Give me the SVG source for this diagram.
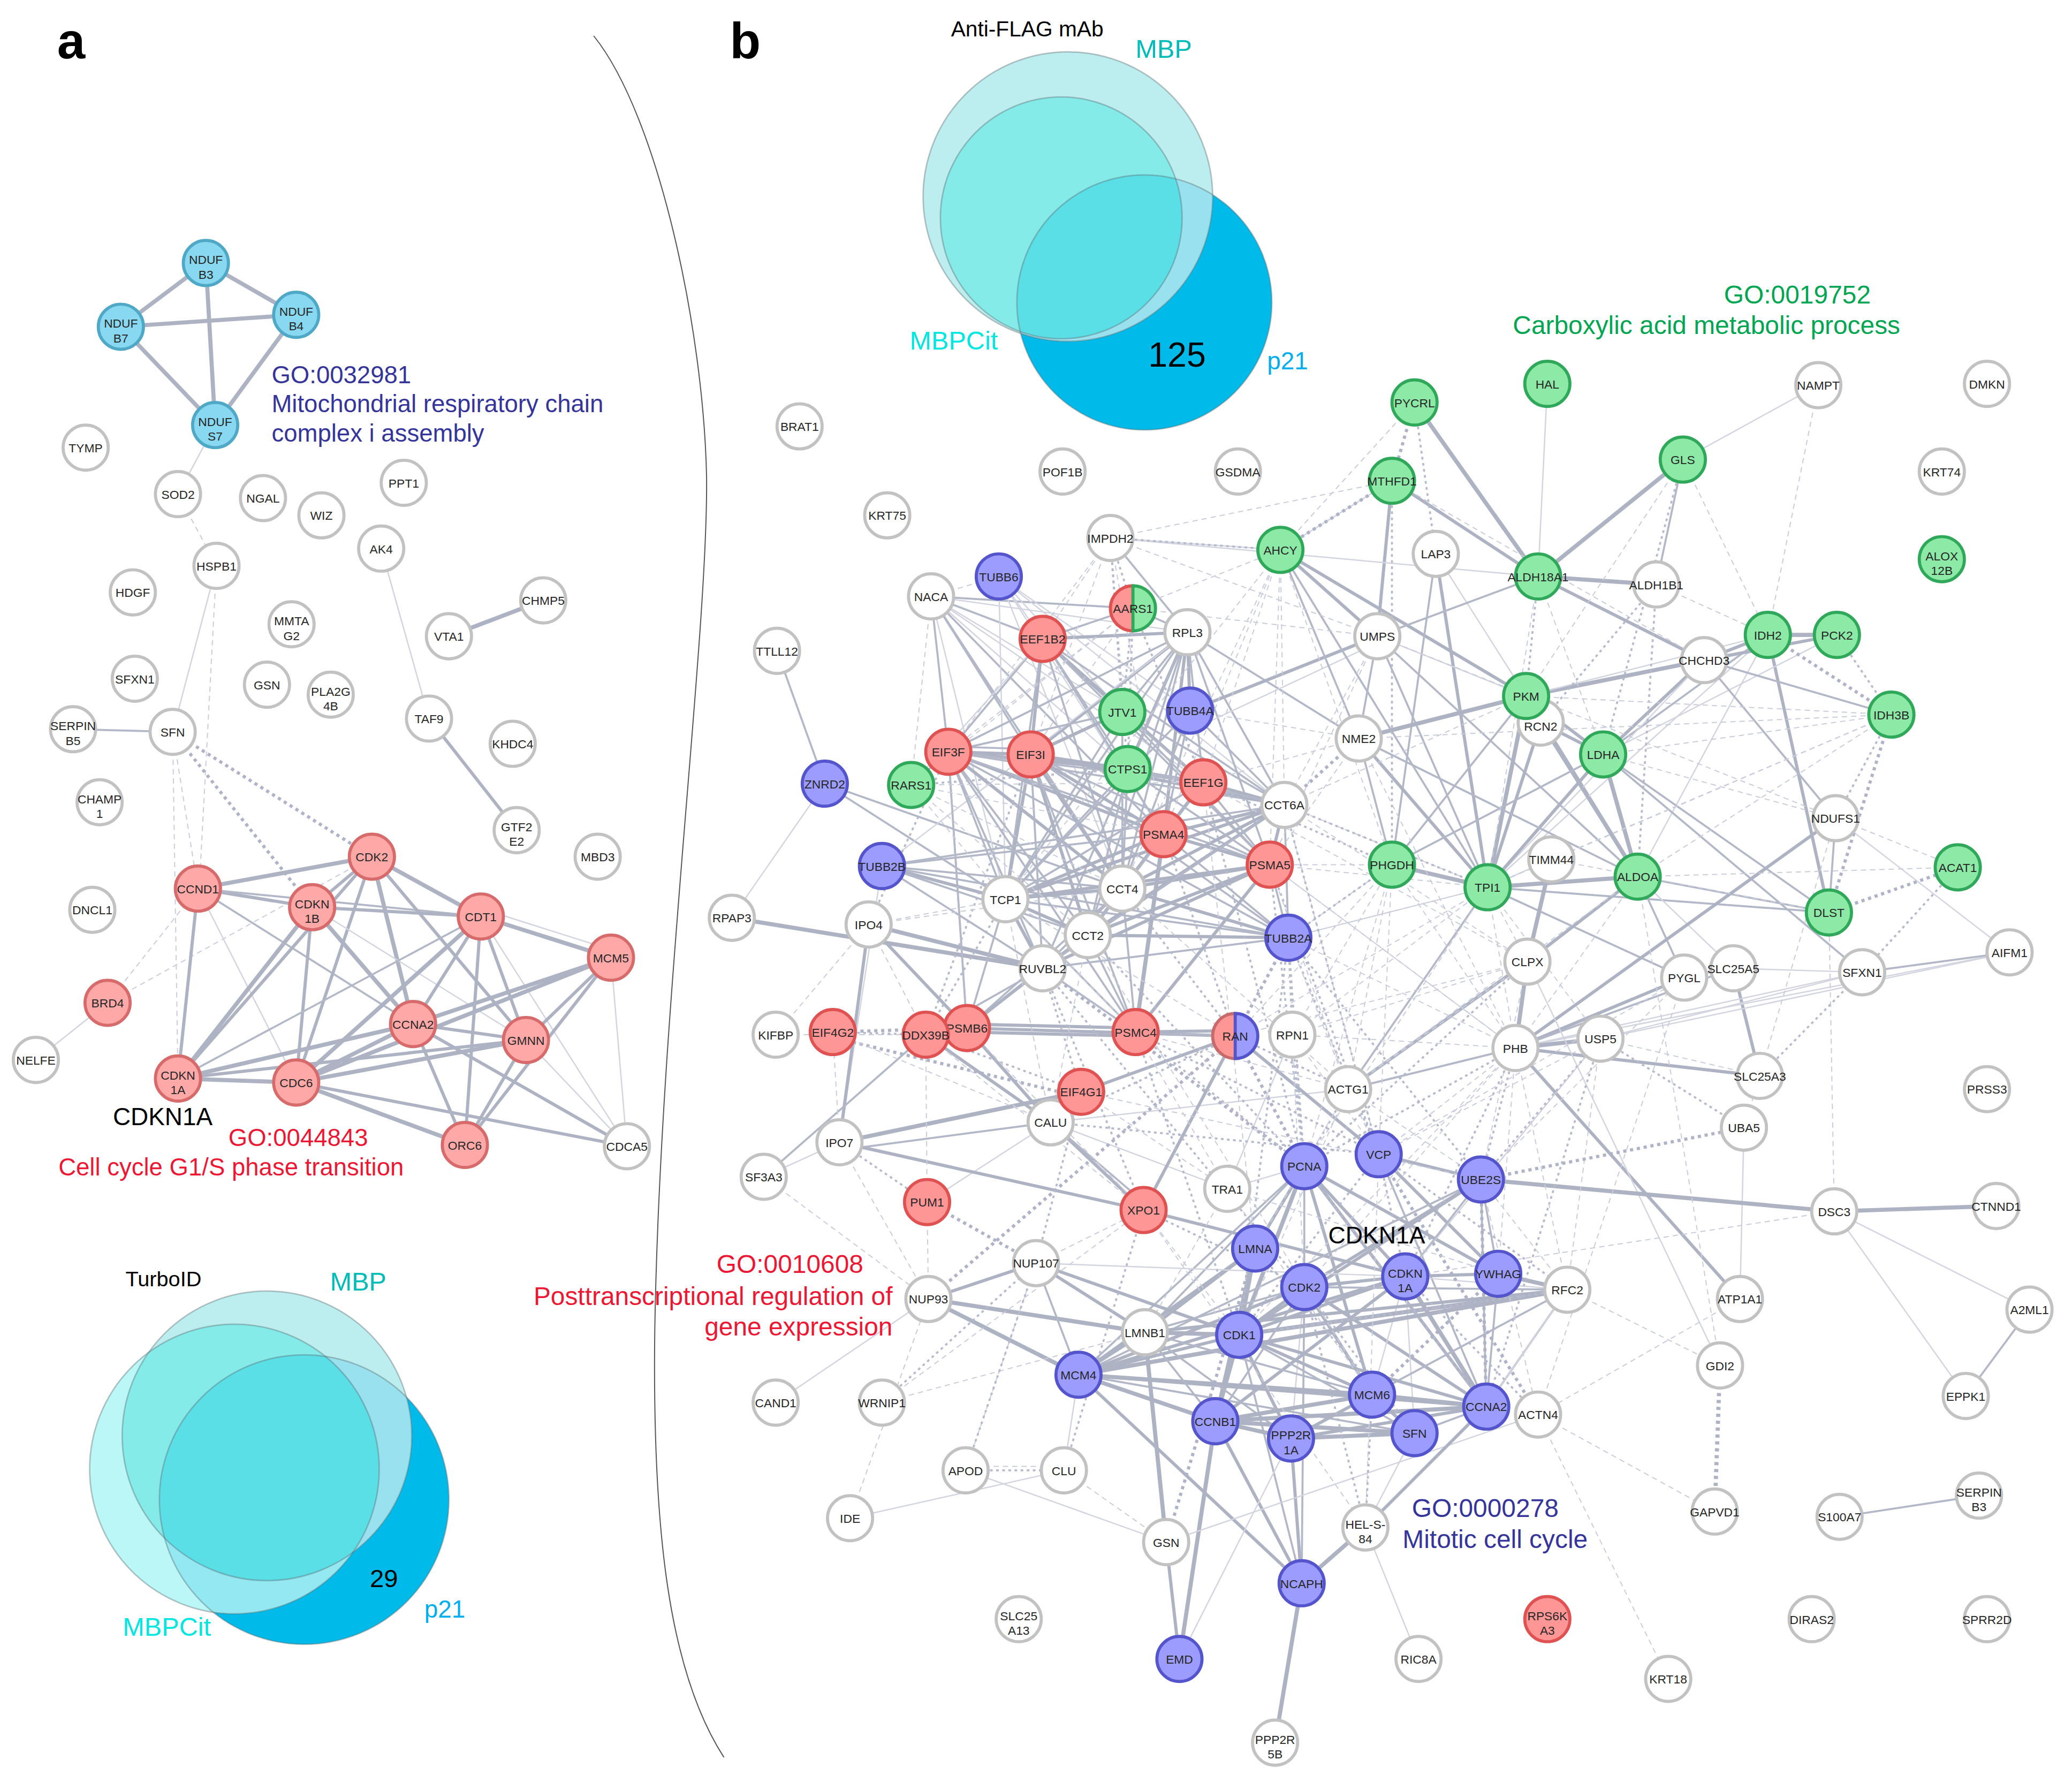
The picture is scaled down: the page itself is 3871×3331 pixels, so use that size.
<svg xmlns="http://www.w3.org/2000/svg" width="3871" height="3331" viewBox="0 0 3871 3331">
<style>
text{font-family:"Liberation Sans",Arial,sans-serif}
#connectors path{fill:none}
.x{stroke:#aeb3c4;stroke-width:3.100}
.t{stroke:#aeb3c4;stroke-width:2.400}
.m{stroke:#b3b8c8;stroke-width:1.500}
.l{stroke:#d2d5e0;stroke-width:1}
.d{stroke:#c9cddb;stroke-width:.8;stroke-dasharray:4 3}
.s{stroke:#aeb3c8;stroke-width:2.400;stroke-dasharray:2.400 2.800}
.q{stroke:#b5bacc;stroke-width:1.500;stroke-dasharray:2 2.600}
.nd circle,.nd path{stroke-width:2.300}
.nd text{font-size:9.200px;text-anchor:middle;fill:#262626}
.w circle{fill:#fff;stroke:#c2c2c2}
.r circle{fill:#ff9696;stroke:#e05252}
.ra circle{fill:#ffa8a8;stroke:#d76a6a}
.g circle{fill:#8ceaa6;stroke:#2fa85a}
.p circle{fill:#9c9cff;stroke:#5454cc}
.c circle{fill:#87d8f0;stroke:#4fa9c6}
.go{font-size:18.350px}
.gb{font-size:19.300px}
.blue{fill:#35349a}.red{fill:#ee1733}.green{fill:#00a651}
.vt{font-size:19.600px}
.ring{fill:none;stroke:#5c6b70;stroke-opacity:.4;stroke-width:1.100}
</style>
<defs>
<clipPath id="ca-m"><circle cx="201" cy="1081" r="109"/></clipPath>
<clipPath id="ca-c"><circle cx="176.500" cy="1106" r="109"/></clipPath>
<clipPath id="ca-p"><circle cx="229" cy="1129" r="109"/></clipPath>
<clipPath id="cb-m"><circle cx="804" cy="148" r="109"/></clipPath>
<clipPath id="cb-c"><circle cx="799" cy="164" r="91"/></clipPath>
<clipPath id="cb-p"><circle cx="861.600" cy="227.700" r="96"/></clipPath>
</defs>
<g transform="scale(2.4814)">
<rect x="0" y="0" width="1560" height="1343" fill="#fff"/>
<path id="divider" d="M447 27C496 88 530 250 532 360C533 480 497 760 493 1000C491 1150 503 1258 545 1323" fill="none" stroke="#555" stroke-width=".8"/>
<g id="venn-a">
<circle cx="229" cy="1129" r="109" fill="#00bbea"/>
<circle cx="176.500" cy="1106" r="109" fill="#baf7f6"/>
<circle cx="201" cy="1081" r="109" fill="#bdeeef"/>
<circle cx="201" cy="1081" r="109" fill="#84ebe9" clip-path="url(#ca-c)"/>
<circle cx="229" cy="1129" r="109" fill="#94e8f2" clip-path="url(#ca-c)"/>
<circle cx="229" cy="1129" r="109" fill="#99e1ef" clip-path="url(#ca-m)"/>
<g clip-path="url(#ca-c)"><circle cx="229" cy="1129" r="109" fill="#5bdfe7" clip-path="url(#ca-m)"/></g>
<circle class="ring" cx="201" cy="1081" r="109"/><circle class="ring" cx="176.500" cy="1106" r="109"/><circle class="ring" cx="229" cy="1129" r="109" stroke-opacity=".7"/>
<text x="94.500" y="968.500" font-size="16">TurboID</text>
<text class="vt" x="248.500" y="971.500" fill="#00bcb8">MBP</text>
<text class="vt" x="92.500" y="1231.500" fill="#00e6e0">MBPCit</text>
<text x="278.500" y="1195" font-size="19" fill="#000">29</text>
<text x="319.500" y="1218" font-size="18.500" fill="#00aeef">p21</text>
</g>
<g id="venn-b">
<circle cx="861.600" cy="227.700" r="96" fill="#00bbea"/>
<circle cx="804" cy="148" r="109" fill="#bdeeef"/>
<circle cx="861.600" cy="227.700" r="96" fill="#99e1ef" clip-path="url(#cb-m)"/>
<circle cx="799" cy="164" r="91" fill="#84ebe9"/>
<circle cx="861.600" cy="227.700" r="96" fill="#5bdfe7" clip-path="url(#cb-c)"/>
<circle class="ring" cx="804" cy="148" r="109"/><circle class="ring" cx="799" cy="164" r="91"/><circle class="ring" cx="861.600" cy="227.700" r="96" stroke-opacity=".7"/>
<text x="716" y="27.500" font-size="16.400">Anti-FLAG mAb</text>
<text class="vt" x="855" y="43.500" fill="#00bcb8">MBP</text>
<text class="vt" x="685" y="263" fill="#00e6e0">MBPCit</text>
<text x="864.500" y="276" font-size="26" fill="#000">125</text>
<text x="954" y="278" font-size="18.500" fill="#00aeef">p21</text>
</g>
<g id="connectors">
<path class="x" d="M155 198L91 246"/><path class="x" d="M155 198L223 237"/><path class="x" d="M91 246L223 237"/><path class="x" d="M155 198L162 320"/><path class="x" d="M91 246L162 320"/><path class="x" d="M223 237L162 320"/>
<path class="l" d="M162 320L134 372"/><path class="d" d="M134 372L163 426"/><path class="l" d="M163 426L130 551"/><path class="d" d="M163 426L150 669"/><path class="l" d="M287 413L323 541"/><path class="x" d="M338 479L409 452"/><path class="m" d="M55 549L130 551"/><path class="s" d="M130 551L280 645"/><path class="s" d="M130 551L235 683"/><path class="d" d="M130 551L149 669"/><path class="d" d="M130 551L134 812"/><path class="d" d="M81 755L149 669"/><path class="d" d="M81 755L280 645"/><path class="l" d="M81 755L27 798"/><path class="t" d="M323 541L389 625"/>
<path class="x" d="M149 669L280 645"/><path class="t" d="M149 669L235 683"/><path class="m" d="M149 669L362 690"/><path class="t" d="M149 669L134 812"/><path class="l" d="M149 669L223 815"/><path class="m" d="M149 669L311 771"/><path class="t" d="M280 645L235 683"/><path class="x" d="M280 645L362 690"/><path class="t" d="M280 645L134 812"/><path class="x" d="M280 645L311 771"/><path class="t" d="M280 645L223 815"/><path class="t" d="M280 645L396 783"/><path class="t" d="M235 683L362 690"/><path class="x" d="M235 683L134 812"/><path class="t" d="M235 683L223 815"/><path class="x" d="M235 683L311 771"/><path class="l" d="M235 683L396 783"/><path class="x" d="M362 690L460 721"/><path class="l" d="M362 684L460 715"/><path class="m" d="M362 690L134 812"/><path class="x" d="M362 690L223 815"/><path class="t" d="M362 690L311 771"/><path class="t" d="M362 690L396 783"/><path class="t" d="M362 690L350 862"/><path class="l" d="M362 690L472 863"/><path class="x" d="M460 721L311 771"/><path class="x" d="M460 721L223 815"/><path class="t" d="M460 721L396 783"/><path class="t" d="M460 721L350 862"/><path class="l" d="M460 721L472 863"/><path class="t" d="M311 771L396 783"/><path class="x" d="M311 771L134 812"/><path class="x" d="M311 771L223 815"/><path class="t" d="M311 771L350 862"/><path class="t" d="M311 771L472 863"/><path class="t" d="M396 783L134 812"/><path class="x" d="M396 783L223 815"/><path class="t" d="M396 783L350 862"/><path class="l" d="M396 783L472 863"/><path class="x" d="M134 812L223 815"/><path class="x" d="M223 815L350 862"/><path class="t" d="M223 815L472 863"/>

<path class="m" d="M585 490L621 590"/><path class="l" d="M621 590L551 691"/><path class="m" d="M621 590L757 677"/><path class="m" d="M621 590L845 669"/><path class="l" d="M664 652L632 860"/><path class="x" d="M551 691L785 729"/><path class="x" d="M654 696L785 729"/><path class="t" d="M654 696L728 774"/><path class="t" d="M654 696L632 860"/><path class="m" d="M575 886L697 779"/><path class="l" d="M575 886L632 860"/>
<path class="m" d="M701 449L785 481"/><path class="m" d="M701 449L853 458"/><path class="l" d="M701 449L894 476"/><path class="m" d="M701 449L714 566"/><path class="m" d="M701 449L776 568"/><path class="l" d="M701 449L845 536"/><path class="m" d="M701 449L845 669"/><path class="l" d="M701 449L757 677"/><path class="l" d="M701 449L906 589"/><path class="m" d="M701 449L876 628"/><path class="l" d="M701 449L849 579"/>
<path class="l" d="M752 434L785 481"/><path class="l" d="M752 434L757 677"/><path class="l" d="M752 434L845 669"/><path class="l" d="M752 434L845 536"/><path class="l" d="M752 434L896 535"/><path class="l" d="M752 434L967 606"/><path class="l" d="M752 434L876 628"/>
<path class="t" d="M785 481L894 476"/><path class="t" d="M785 481L845 536"/><path class="t" d="M785 481L776 568"/><path class="m" d="M785 481L714 566"/><path class="m" d="M785 481L849 579"/><path class="t" d="M785 481L906 589"/><path class="m" d="M785 481L876 628"/><path class="m" d="M785 481L845 669"/><path class="m" d="M785 481L757 677"/><path class="l" d="M785 481L686 591"/><path class="m" d="M785 481L853 458"/><path class="m" d="M785 481L967 606"/><path class="m" d="M785 481L956 651"/>
<path class="m" d="M894 476L845 536"/><path class="t" d="M894 476L896 535"/><path class="m" d="M894 476L714 566"/><path class="t" d="M894 476L776 568"/><path class="t" d="M894 476L849 579"/><path class="m" d="M894 476L906 589"/><path class="t" d="M894 476L876 628"/><path class="m" d="M894 476L845 669"/><path class="m" d="M894 476L757 677"/><path class="m" d="M894 476L967 606"/><path class="m" d="M894 476L956 651"/><path class="m" d="M894 476L853 458"/><path class="l" d="M894 476L664 652"/><path class="m" d="M894 476L785 729"/><path class="m" d="M894 476L819 704"/><path class="m" d="M894 476L1023 556"/>
<path class="t" d="M845 536L776 568"/><path class="m" d="M845 536L714 566"/><path class="m" d="M845 536L906 589"/><path class="m" d="M845 536L956 651"/><path class="m" d="M845 536L967 606"/><path class="m" d="M845 536L757 677"/><path class="m" d="M845 536L845 669"/>
<path class="m" d="M896 535L757 677"/><path class="m" d="M896 535L845 669"/><path class="m" d="M896 535L967 606"/><path class="m" d="M896 535L876 628"/><path class="t" d="M896 535L1037 479"/><path class="l" d="M896 550L1037 484"/>
<path class="t" d="M714 566L776 568"/><path class="m" d="M714 562L776 564"/><path class="t" d="M714 566L849 579"/><path class="m" d="M714 566L906 589"/><path class="m" d="M714 566L686 591"/><path class="t" d="M714 566L876 628"/><path class="m" d="M714 566L757 677"/><path class="t" d="M714 566L845 669"/><path class="m" d="M714 566L967 606"/><path class="m" d="M714 566L956 651"/><path class="m" d="M714 566L819 704"/><path class="m" d="M714 566L785 729"/><path class="m" d="M714 566L855 777"/><path class="m" d="M714 566L970 706"/><path class="m" d="M714 566L728 774"/>
<path class="t" d="M776 568L849 579"/><path class="t" d="M776 568L906 589"/><path class="t" d="M776 568L876 628"/><path class="t" d="M776 568L757 677"/><path class="t" d="M776 568L845 669"/><path class="t" d="M776 568L967 606"/><path class="m" d="M776 568L956 651"/><path class="t" d="M776 568L819 704"/><path class="m" d="M776 568L785 729"/><path class="m" d="M776 568L855 777"/><path class="m" d="M776 568L970 706"/>
<path class="t" d="M664 652L757 677"/><path class="m" d="M664 652L845 669"/><path class="m" d="M664 652L876 628"/><path class="m" d="M664 652L819 704"/><path class="m" d="M664 652L785 729"/><path class="m" d="M664 652L967 606"/><path class="m" d="M664 652L970 706"/>
<path class="t" d="M757 677L845 669"/><path class="t" d="M757 677L819 704"/><path class="t" d="M757 677L785 729"/><path class="t" d="M757 677L967 606"/><path class="t" d="M757 677L956 651"/><path class="t" d="M757 677L876 628"/><path class="m" d="M757 677L970 706"/><path class="m" d="M757 677L906 589"/><path class="m" d="M757 677L849 579"/><path class="m" d="M757 677L855 777"/><path class="m" d="M757 677L728 774"/>
<path class="t" d="M845 669L819 704"/><path class="m" d="M845 669L785 729"/><path class="t" d="M845 669L967 606"/><path class="t" d="M845 669L876 628"/><path class="t" d="M845 669L956 651"/><path class="t" d="M845 669L906 589"/><path class="t" d="M845 669L970 706"/><path class="m" d="M845 669L849 579"/><path class="m" d="M845 669L728 774"/><path class="m" d="M845 669L855 777"/>
<path class="t" d="M819 704L967 606"/><path class="t" d="M819 704L956 651"/><path class="t" d="M819 704L785 729"/><path class="t" d="M819 704L970 706"/><path class="t" d="M819 704L876 628"/><path class="m" d="M819 704L906 589"/><path class="m" d="M819 704L849 579"/><path class="m" d="M819 704L855 777"/><path class="m" d="M819 704L728 774"/>
<path class="m" d="M785 729L967 606"/><path class="t" d="M785 729L956 651"/><path class="t" d="M785 729L728 774"/><path class="m" d="M785 729L697 779"/><path class="m" d="M785 729L855 777"/><path class="m" d="M785 729L970 706"/>
<path class="x" d="M876 628L855 777"/><path class="t" d="M876 628L956 651"/><path class="t" d="M876 628L967 606"/><path class="t" d="M876 628L906 589"/><path class="m" d="M876 628L970 706"/><path class="t" d="M956 651L855 777"/><path class="t" d="M956 651L967 606"/><path class="m" d="M956 651L970 706"/><path class="m" d="M906 589L956 651"/><path class="t" d="M906 589L967 606"/><path class="m" d="M849 579L967 606"/><path class="m" d="M849 579L906 589"/><path class="m" d="M849 579L956 651"/><path class="m" d="M967 606L970 706"/>
<path class="t" d="M728 771L855 774"/><path class="t" d="M728 777L855 780"/><path class="t" d="M728 774L930 780"/><path class="m" d="M855 777L930 780"/><path class="t" d="M855 777L930 776"/><path class="t" d="M728 774L791 845"/><path class="t" d="M697 779L791 845"/><path class="t" d="M814 822L930 780"/><path class="x" d="M632 860L814 822"/><path class="m" d="M632 866L791 845"/><path class="t" d="M791 845L861 911"/><path class="m" d="M791 845L861 905"/><path class="l" d="M791 845L924 895"/><path class="l" d="M791 845L698 905"/><path class="l" d="M791 845L1015 820"/><path class="t" d="M632 860L861 911"/><path class="t" d="M861 911L930 780"/><path class="t" d="M861 911L1058 961"/><path class="l" d="M924 895L982 878"/><path class="l" d="M924 895L973 779"/><path class="t" d="M930 780L1038 869"/>

<path class="x" d="M1065 303L1158 434"/><path class="l" d="M1165 289L1158 434"/><path class="x" d="M1267 346L1158 434"/><path class="l" d="M1267 346L1369 290"/><path class="m" d="M1267 346L1247 440"/><path class="t" d="M1048 362L1158 434"/><path class="t" d="M1048 362L1037 479"/><path class="l" d="M1048 362L964 414"/>
<path class="t" d="M964 414L1037 479"/><path class="t" d="M964 414L1149 524"/><path class="m" d="M964 414L1023 556"/><path class="m" d="M964 414L1120 668"/><path class="t" d="M1081 417L1120 668"/><path class="m" d="M1081 417L1048 651"/><path class="l" d="M1081 417L1149 524"/>
<path class="x" d="M1158 434L1247 440"/><path class="t" d="M1158 434L1283 497"/><path class="m" d="M1158 434L1037 479"/><path class="l" d="M1158 434L836 405"/><path class="m" d="M1037 479L1023 556"/><path class="l" d="M1037 479L1149 524"/><path class="m" d="M1037 479L1120 668"/><path class="m" d="M1037 479L1233 660"/>
<path class="x" d="M1149 524L1283 497"/><path class="x" d="M1149 524L1023 556"/><path class="x" d="M1149 524L1120 668"/><path class="t" d="M1149 524L1207 568"/><path class="x" d="M1149 524L1233 660"/><path class="m" d="M1149 524L1048 651"/><path class="l" d="M1149 524L1331 478"/>
<path class="x" d="M1331 478L1383 478"/><path class="t" d="M1331 478L1283 497"/><path class="t" d="M1331 478L1377 687"/><path class="l" d="M1331 478L1120 668"/><path class="l" d="M1331 478L1233 660"/><path class="m" d="M1331 478L1207 568"/><path class="t" d="M1383 478L1283 497"/><path class="l" d="M1383 478L1207 568"/><path class="t" d="M1283 497L1207 568"/><path class="m" d="M1283 497L1382 616"/><path class="l" d="M1283 497L1120 668"/><path class="m" d="M1283 497L1424 538"/>
<path class="t" d="M1207 568L1120 668"/><path class="x" d="M1207 568L1233 660"/><path class="m" d="M1207 568L1402 732"/><path class="m" d="M1207 568L1377 687"/><path class="l" d="M1207 568L1048 651"/><path class="t" d="M1160 544L1233 660"/><path class="t" d="M1160 544L1207 568"/><path class="t" d="M1160 544L1120 668"/>
<path class="m" d="M1023 556L1048 651"/><path class="t" d="M1023 556L1120 668"/><path class="m" d="M1023 556L1233 660"/><path class="x" d="M1048 651L1120 668"/><path class="m" d="M1048 651L1207 568"/><path class="x" d="M1120 668L1233 660"/><path class="m" d="M1120 668L1377 687"/><path class="m" d="M1120 668L1268 736"/><path class="l" d="M1120 668L1168 647"/><path class="m" d="M1233 660L1377 687"/><path class="t" d="M1233 660L1150 724"/><path class="m" d="M1233 660L1268 736"/><path class="l" d="M1233 660L1305 729"/><path class="x" d="M1168 647L1150 724"/><path class="m" d="M1377 687L1382 616"/><path class="l" d="M1382 616L1513 717"/><path class="t" d="M1382 616L1141 789"/><path class="l" d="M1268 736L1305 729"/><path class="t" d="M1268 736L1141 789"/><path class="l" d="M1305 729L1402 732"/><path class="t" d="M1305 729L1325 810"/><path class="m" d="M1305 729L1141 789"/><path class="m" d="M1402 732L1513 717"/><path class="l" d="M1402 732L1141 789"/><path class="l" d="M1402 732L1205 782"/><path class="l" d="M1513 717L1141 789"/><path class="l" d="M1513 717L1205 782"/>
<path class="x" d="M1141 789L1205 782"/><path class="t" d="M1141 789L1325 810"/><path class="t" d="M1141 789L1310 978"/><path class="m" d="M1141 789L1015 820"/><path class="x" d="M1141 789L1150 724"/><path class="l" d="M1150 724L1295 1028"/><path class="t" d="M1150 724L1015 820"/><path class="m" d="M1120 668L1015 820"/><path class="l" d="M1310 978L1313 849"/><path class="x" d="M1115 888L1381 912"/><path class="x" d="M1381 912L1503 908"/><path class="l" d="M1381 912L1528 986"/><path class="l" d="M1381 912L1480 1051"/><path class="m" d="M1528 986L1480 1051"/><path class="m" d="M1385 1142L1490 1126"/><path class="l" d="M1028 1150L1068 1249"/>

<path class="t" d="M982 878L945 940"/><path class="m" d="M982 878L982 969"/><path class="x" d="M982 878L933 1005"/><path class="m" d="M982 878L812 1035"/><path class="t" d="M982 878L1033 1050"/><path class="t" d="M982 878L1119 1059"/><path class="t" d="M982 878L1058 961"/><path class="t" d="M982 878L1128 959"/><path class="m" d="M982 878L862 1003"/>
<path class="t" d="M1038 869L1115 888"/><path class="t" d="M1038 869L1128 959"/><path class="m" d="M1038 869L1119 1059"/><path class="m" d="M1115 888L1058 961"/><path class="t" d="M1115 888L982 969"/><path class="m" d="M1115 888L1128 959"/><path class="m" d="M1115 888L1119 1059"/><path class="t" d="M1115 888L933 1005"/><path class="m" d="M1115 888L812 1035"/>
<path class="x" d="M945 940L933 1005"/><path class="t" d="M945 940L862 1003"/><path class="x" d="M945 940L915 1070"/><path class="t" d="M945 940L812 1035"/>
<path class="t" d="M982 969L933 1005"/><path class="t" d="M982 969L1058 961"/><path class="t" d="M982 969L1033 1050"/><path class="m" d="M982 969L915 1070"/><path class="t" d="M982 969L1119 1059"/><path class="t" d="M982 969L812 1035"/><path class="l" d="M982 969L972 1083"/><path class="m" d="M982 969L862 1003"/><path class="m" d="M982 969L980 1192"/>
<path class="t" d="M1058 961L933 1005"/><path class="t" d="M1058 961L812 1035"/><path class="t" d="M1058 961L915 1070"/><path class="x" d="M1058 961L1119 1059"/><path class="t" d="M1058 961L1128 959"/><path class="l" d="M1058 961L1180 971"/><path class="l" d="M1058 961L1065 1079"/><path class="l" d="M1058 961L1033 1050"/><path class="m" d="M1128 959L1119 1059"/><path class="x" d="M1128 959L1180 971"/>
<path class="x" d="M1180 971L933 1005"/><path class="t" d="M1180 971L862 1003"/><path class="x" d="M1180 971L812 1035"/><path class="m" d="M1180 971L982 969"/><path class="m" d="M1180 971L1119 1059"/><path class="m" d="M1180 971L1033 1050"/>
<path class="x" d="M933 1005L862 1003"/><path class="t" d="M933 1005L812 1035"/><path class="t" d="M933 1005L1033 1050"/><path class="x" d="M933 1005L915 1070"/><path class="t" d="M933 1005L1119 1059"/><path class="t" d="M933 1005L972 1083"/><path class="m" d="M933 1005L1065 1079"/><path class="m" d="M933 1005L980 1192"/>
<path class="x" d="M812 1035L1033 1050"/><path class="t" d="M812 1035L862 1003"/><path class="x" d="M812 1035L915 1070"/><path class="t" d="M812 1035L1119 1059"/><path class="x" d="M812 1035L699 978"/><path class="t" d="M812 1035L980 1192"/><path class="m" d="M812 1035L1065 1079"/>
<path class="t" d="M699 978L780 951"/><path class="x" d="M699 978L862 1003"/><path class="l" d="M699 978L584 1056"/><path class="t" d="M780 951L862 1003"/><path class="t" d="M780 951L933 1005"/><path class="m" d="M780 951L812 1035"/><path class="l" d="M780 951L1058 961"/><path class="m" d="M862 1003L915 1070"/><path class="x" d="M862 1003L878 1161"/><path class="m" d="M862 1003L1033 1050"/><path class="m" d="M862 1003L972 1083"/>
<path class="x" d="M915 1070L1033 1050"/><path class="x" d="M915 1070L1119 1059"/><path class="x" d="M915 1070L972 1083"/><path class="x" d="M915 1070L1065 1079"/><path class="x" d="M915 1070L888 1249"/><path class="t" d="M915 1070L980 1192"/><path class="x" d="M1033 1050L1119 1059"/><path class="t" d="M1033 1050L1065 1079"/><path class="t" d="M1033 1050L972 1083"/><path class="x" d="M972 1083L1065 1079"/><path class="t" d="M972 1083L1119 1059"/><path class="t" d="M972 1083L980 1192"/><path class="l" d="M972 1083L888 1249"/><path class="m" d="M1065 1079L1119 1059"/>
<path class="t" d="M878 1161L888 1249"/><path class="l" d="M878 1161L727 1107"/><path class="l" d="M878 1161L1158 1065"/><path class="x" d="M980 1192L960 1312"/><path class="x" d="M980 1192L1028 1150"/><path class="t" d="M1028 1150L1119 1059"/><path class="l" d="M1028 1150L1065 1079"/><path class="l" d="M640 1143L801 1107"/><path class="l" d="M801 1107L812 1035"/><path class="l" d="M1119 1059L1180 971"/>

<path class="q" d="M1065 303L1081 417"/><path class="s" d="M1065 303L1048 362"/><path class="d" d="M1065 303L964 414"/><path class="d" d="M1267 346L1149 524"/><path class="d" d="M1267 346L1331 478"/><path class="q" d="M1267 346L1207 568"/><path class="d" d="M1369 290L1331 478"/><path class="s" d="M1048 362L964 414"/><path class="q" d="M1048 362L1048 651"/><path class="d" d="M1048 362L1283 497"/><path class="q" d="M1158 434L1149 524"/><path class="d" d="M1158 434L1120 668"/><path class="d" d="M1158 434L1207 568"/><path class="d" d="M1247 440L1331 478"/><path class="q" d="M1247 440L1160 544"/><path class="q" d="M1247 440L1233 660"/><path class="q" d="M1383 478L1424 538"/><path class="s" d="M1331 478L1424 538"/><path class="s" d="M1424 538L1377 687"/><path class="q" d="M1424 538L1382 616"/><path class="d" d="M1424 538L1120 668"/><path class="d" d="M1424 538L1233 660"/><path class="d" d="M1424 538L1207 568"/><path class="d" d="M1424 538L1168 647"/><path class="s" d="M1377 687L1474 653"/><path class="q" d="M1474 653L1402 732"/><path class="d" d="M1382 616L1474 653"/><path class="d" d="M1207 568L1382 616"/><path class="d" d="M1149 524L1424 538"/><path class="d" d="M1233 660L1474 653"/><path class="d" d="M1168 647L1377 687"/><path class="s" d="M1023 556L967 606"/><path class="d" d="M1023 556L1424 538"/><path class="d" d="M1037 479L1382 616"/>
<path class="d" d="M1120 668L1150 724"/><path class="d" d="M1120 668L1141 789"/><path class="d" d="M1120 668L1205 782"/><path class="d" d="M1233 660L1141 789"/><path class="d" d="M1233 660L1015 820"/><path class="d" d="M1048 651L970 706"/><path class="d" d="M1048 651L956 651"/><path class="d" d="M1048 651L1038 869"/><path class="d" d="M1048 651L982 878"/><path class="d" d="M1048 651L930 780"/><path class="d" d="M1120 668L967 606"/><path class="d" d="M1120 668L956 651"/><path class="d" d="M1120 668L970 706"/><path class="d" d="M1120 668L930 780"/><path class="d" d="M1120 668L982 878"/><path class="d" d="M1149 524L967 606"/><path class="d" d="M1037 479L967 606"/><path class="d" d="M1037 479L956 651"/><path class="d" d="M964 414L967 606"/><path class="d" d="M964 414L876 628"/><path class="d" d="M964 414L906 589"/><path class="d" d="M964 414L956 651"/><path class="d" d="M964 414L845 669"/><path class="d" d="M964 414L757 677"/><path class="d" d="M964 414L1048 651"/><path class="l" d="M964 414L836 405"/>
<path class="q" d="M836 405L853 458"/><path class="d" d="M836 405L785 481"/><path class="q" d="M836 405L845 536"/><path class="q" d="M836 405L849 579"/><path class="d" d="M836 405L876 628"/><path class="m" d="M836 405L894 476"/><path class="d" d="M836 405L776 568"/><path class="d" d="M836 405L714 566"/><path class="q" d="M836 405L964 414"/><path class="d" d="M836 405L1048 362"/><path class="d" d="M836 405L1037 479"/><path class="d" d="M701 449L752 434"/><path class="d" d="M701 449L686 591"/><path class="d" d="M853 458L686 591"/><path class="d" d="M853 458L776 568"/><path class="q" d="M853 458L845 536"/><path class="q" d="M853 458L849 579"/><path class="d" d="M853 458L1037 479"/><path class="d" d="M853 458L964 414"/><path class="q" d="M853 458L906 589"/><path class="d" d="M853 458L714 566"/>
<path class="q" d="M714 566L728 774"/><path class="q" d="M776 568L697 779"/><path class="d" d="M686 591L845 669"/><path class="d" d="M686 591L757 677"/><path class="d" d="M686 591L876 628"/><path class="d" d="M686 591L906 589"/><path class="q" d="M686 591L849 579"/><path class="d" d="M686 591L819 704"/><path class="d" d="M654 696L757 677"/><path class="d" d="M654 696L845 669"/><path class="q" d="M654 696L714 566"/><path class="d" d="M654 696L697 779"/>
<path class="d" d="M584 779L654 696"/><path class="d" d="M584 779L697 779"/><path class="q" d="M627 777L697 779"/><path class="s" d="M627 777L728 774"/><path class="q" d="M697 779L814 822"/><path class="s" d="M627 781L814 826"/><path class="d" d="M627 777L791 845"/><path class="d" d="M632 860L627 777"/><path class="q" d="M632 860L698 905"/><path class="d" d="M632 860L699 978"/><path class="d" d="M575 886L699 978"/><path class="d" d="M698 905L697 779"/><path class="d" d="M698 905L699 978"/><path class="s" d="M698 905L780 951"/><path class="s" d="M699 978L930 780"/><path class="d" d="M780 951L861 911"/><path class="q" d="M780 951L814 822"/><path class="d" d="M780 951L727 1107"/><path class="q" d="M664 1056L780 951"/><path class="d" d="M664 1056L861 911"/><path class="d" d="M640 1143L699 978"/><path class="d" d="M664 1056L862 1003"/><path class="q" d="M727 1107L801 1107"/><path class="d" d="M727 1104L801 1104"/><path class="q" d="M727 1107L780 951"/><path class="d" d="M801 1107L878 1161"/><path class="q" d="M801 1107L861 911"/><path class="s" d="M878 1161L945 940"/><path class="q" d="M785 729L861 911"/>
<path class="s" d="M785 729L982 878"/><path class="q" d="M855 777L982 878"/><path class="s" d="M930 780L982 878"/><path class="q" d="M855 777L933 1005"/><path class="q" d="M970 706L982 878"/><path class="q" d="M956 651L982 878"/><path class="q" d="M956 651L1038 869"/><path class="q" d="M970 706L1038 869"/><path class="s" d="M970 706L930 780"/><path class="q" d="M970 706L973 779"/><path class="q" d="M970 706L933 1005"/><path class="d" d="M967 606L1038 869"/><path class="d" d="M906 589L945 940"/><path class="d" d="M819 704L1033 1050"/><path class="q" d="M785 729L982 969"/><path class="d" d="M973 779L982 969"/><path class="q" d="M973 779L982 878"/><path class="d" d="M973 779L1038 869"/><path class="q" d="M1015 820L982 878"/><path class="d" d="M1015 820L1038 869"/><path class="d" d="M1015 820L1115 888"/><path class="d" d="M1015 820L933 1005"/><path class="q" d="M1015 820L930 780"/><path class="d" d="M1015 820L945 940"/><path class="q" d="M1141 789L982 878"/><path class="d" d="M1141 789L1038 869"/><path class="q" d="M1141 789L1115 888"/><path class="d" d="M1141 789L933 1005"/><path class="d" d="M1141 789L973 779"/><path class="d" d="M1141 789L970 706"/><path class="d" d="M1141 789L956 651"/><path class="d" d="M1205 782L1038 869"/><path class="d" d="M1205 782L1180 971"/><path class="d" d="M1205 782L1058 961"/><path class="d" d="M1150 724L973 779"/><path class="d" d="M1150 724L1015 820"/><path class="q" d="M1150 724L982 878"/><path class="d" d="M1150 724L930 780"/><path class="d" d="M1150 724L1115 888"/><path class="q" d="M1205 782L1313 849"/><path class="s" d="M1115 888L1313 849"/><path class="x" style="stroke-dasharray:2.400 2.800" d="M1295 1028L1291 1138"/><path class="d" d="M1158 1065L1291 1138"/><path class="d" d="M1158 1065L1256 1264"/><path class="d" d="M1180 971L1295 1028"/><path class="d" d="M1310 978L1158 1065"/><path class="d" d="M1381 912L1377 687"/><path class="d" d="M1381 912L1058 961"/><path class="d" d="M1325 810L1382 616"/><path class="q" d="M1325 810L1402 732"/><path class="d" d="M1313 849L1325 810"/><path class="d" d="M1325 810L1205 782"/><path class="d" d="M1233 660L1295 1028"/><path class="q" d="M1205 782L1119 1059"/><path class="d" d="M1268 736L1158 1065"/><path class="d" d="M1115 888L1158 1065"/><path class="d" d="M1180 971L1115 888"/><path class="q" d="M1038 869L1180 971"/><path class="q" d="M1058 961L1158 1065"/><path class="s" d="M1128 959L1033 1050"/><path class="s" d="M1119 1059L1115 888"/><path class="q" d="M1180 971L933 1005"/><path class="s" d="M1038 869L1158 1065"/><path class="q" d="M982 878L1119 1059"/><path class="q" d="M1038 869L1058 961"/><path class="q" d="M1038 869L933 1005"/><path class="d" d="M1038 869L1028 1150"/><path class="q" d="M945 940L1065 1079"/><path class="q" d="M982 969L1065 1079"/><path class="q" d="M1028 1150L1033 1050"/><path class="q" d="M1028 1150L982 969"/><path class="d" d="M924 895L1033 1050"/><path class="d" d="M924 895L862 1003"/><path class="d" d="M924 895L1128 959"/><path class="d" d="M861 911L933 1005"/><path class="d" d="M861 911L1028 1150"/><path class="q" d="M861 911L982 969"/><path class="d" d="M814 822L924 895"/><path class="d" d="M814 822L1115 888"/><path class="q" d="M791 845L930 780"/><path class="q" d="M791 845L1038 869"/><path class="d" d="M855 777L1015 820"/><path class="d" d="M855 777L924 895"/><path class="d" d="M697 779L861 911"/><path class="d" d="M728 774L861 911"/><path class="q" d="M757 677L697 779"/><path class="q" d="M785 729L814 822"/><path class="q" d="M785 729L855 777"/><path class="d" d="M757 677L791 845"/><path class="d" d="M819 704L791 845"/><path class="d" d="M906 589L1023 556"/><path class="q" d="M906 589L1048 651"/><path class="d" d="M896 535L1023 556"/><path class="d" d="M956 651L1023 556"/><path class="q" d="M967 606L1120 668"/><path class="d" d="M970 706L1120 668"/><path class="q" d="M970 706L1048 651"/>
<path class="q" d="M967 606L1038 869"/><path class="q" d="M906 589L982 878"/><path class="q" d="M876 628L930 780"/><path class="d" d="M956 651L1141 789"/><path class="q" d="M970 706L1115 888"/><path class="d" d="M973 779L1048 651"/><path class="d" d="M973 779L1120 668"/><path class="d" d="M970 706L1015 820"/><path class="q" d="M855 777L1038 869"/><path class="q" d="M819 704L982 878"/><path class="d" d="M845 669L1015 820"/><path class="d" d="M757 677L930 780"/><path class="d" d="M757 677L855 777"/><path class="q" d="M845 669L930 780"/><path class="d" d="M906 589L1150 724"/><path class="d" d="M967 606L1150 724"/><path class="d" d="M956 651L1015 820"/><path class="d" d="M1048 651L1015 820"/><path class="d" d="M1048 651L1141 789"/><path class="d" d="M1023 556L1141 789"/><path class="q" d="M1058 961L1141 789"/><path class="d" d="M1128 959L1141 789"/><path class="d" d="M1180 971L1141 789"/><path class="q" d="M1115 888L1205 782"/><path class="d" d="M1038 869L1268 736"/><path class="d" d="M1115 888L1268 736"/><path class="d" d="M982 969L1141 789"/><path class="d" d="M1058 961L1205 782"/>
</g>
<g id="nodes">
<g id="a-NDUFB3" class="nd c" transform="translate(155 198)"><circle r="17"/><text><tspan x="0" y=".8">NDUF</tspan><tspan x="0" y="11.800">B3</tspan></text></g>
<g id="a-NDUFB7" class="nd c" transform="translate(91 246)"><circle r="17"/><text><tspan x="0" y=".8">NDUF</tspan><tspan x="0" y="11.800">B7</tspan></text></g>
<g id="a-NDUFB4" class="nd c" transform="translate(223 237)"><circle r="17"/><text><tspan x="0" y=".8">NDUF</tspan><tspan x="0" y="11.800">B4</tspan></text></g>
<g id="a-NDUFS7" class="nd c" transform="translate(162 320)"><circle r="17"/><text><tspan x="0" y=".8">NDUF</tspan><tspan x="0" y="11.800">S7</tspan></text></g>
<g id="a-TYMP" class="nd w" transform="translate(64.500 337)"><circle r="17"/><text y="3.500">TYMP</text></g>
<g id="a-SOD2" class="nd w" transform="translate(134 372)"><circle r="17"/><text y="3.500">SOD2</text></g>
<g id="a-NGAL" class="nd w" transform="translate(198 375)"><circle r="17"/><text y="3.500">NGAL</text></g>
<g id="a-WIZ" class="nd w" transform="translate(242 388)"><circle r="17"/><text y="3.500">WIZ</text></g>
<g id="a-PPT1" class="nd w" transform="translate(304 363.500)"><circle r="17"/><text y="3.500">PPT1</text></g>
<g id="a-AK4" class="nd w" transform="translate(287 413)"><circle r="17"/><text y="3.500">AK4</text></g>
<g id="a-HSPB1" class="nd w" transform="translate(163 426)"><circle r="17"/><text y="3.500">HSPB1</text></g>
<g id="a-HDGF" class="nd w" transform="translate(100 446)"><circle r="17"/><text y="3.500">HDGF</text></g>
<g id="a-MMTAG2" class="nd w" transform="translate(219.500 470)"><circle r="17"/><text><tspan x="0" y=".8">MMTA</tspan><tspan x="0" y="11.800">G2</tspan></text></g>
<g id="a-VTA1" class="nd w" transform="translate(338 479)"><circle r="17"/><text y="3.500">VTA1</text></g>
<g id="a-CHMP5" class="nd w" transform="translate(409 452)"><circle r="17"/><text y="3.500">CHMP5</text></g>
<g id="a-SFXN1" class="nd w" transform="translate(101.500 511)"><circle r="17"/><text y="3.500">SFXN1</text></g>
<g id="a-GSN" class="nd w" transform="translate(201 515.500)"><circle r="17"/><text y="3.500">GSN</text></g>
<g id="a-PLA2G4B" class="nd w" transform="translate(249 523)"><circle r="17"/><text><tspan x="0" y=".8">PLA2G</tspan><tspan x="0" y="11.800">4B</tspan></text></g>
<g id="a-TAF9" class="nd w" transform="translate(323 541)"><circle r="17"/><text y="3.500">TAF9</text></g>
<g id="a-KHDC4" class="nd w" transform="translate(386 560)"><circle r="17"/><text y="3.500">KHDC4</text></g>
<g id="a-SERPINB5" class="nd w" transform="translate(55 549)"><circle r="17"/><text><tspan x="0" y=".8">SERPIN</tspan><tspan x="0" y="11.800">B5</tspan></text></g>
<g id="a-SFN" class="nd w" transform="translate(130 551)"><circle r="17"/><text y="3.500">SFN</text></g>
<g id="a-CHAMP1" class="nd w" transform="translate(75 604)"><circle r="17"/><text><tspan x="0" y=".8">CHAMP</tspan><tspan x="0" y="11.800">1</tspan></text></g>
<g id="a-GTF2E2" class="nd w" transform="translate(389 625)"><circle r="17"/><text><tspan x="0" y=".8">GTF2</tspan><tspan x="0" y="11.800">E2</tspan></text></g>
<g id="a-MBD3" class="nd w" transform="translate(450 645)"><circle r="17"/><text y="3.500">MBD3</text></g>
<g id="a-DNCL1" class="nd w" transform="translate(69.500 685)"><circle r="17"/><text y="3.500">DNCL1</text></g>
<g id="a-CCND1" class="nd ra" transform="translate(149 669)"><circle r="17"/><text y="3.500">CCND1</text></g>
<g id="a-CDK2" class="nd ra" transform="translate(280 645)"><circle r="17"/><text y="3.500">CDK2</text></g>
<g id="a-CDKN1B" class="nd ra" transform="translate(235 683)"><circle r="17"/><text><tspan x="0" y=".8">CDKN</tspan><tspan x="0" y="11.800">1B</tspan></text></g>
<g id="a-CDT1" class="nd ra" transform="translate(362 690)"><circle r="17"/><text y="3.500">CDT1</text></g>
<g id="a-MCM5" class="nd ra" transform="translate(460 721)"><circle r="17"/><text y="3.500">MCM5</text></g>
<g id="a-BRD4" class="nd ra" transform="translate(81 755)"><circle r="17"/><text y="3.500">BRD4</text></g>
<g id="a-CCNA2" class="nd ra" transform="translate(311 771)"><circle r="17"/><text y="3.500">CCNA2</text></g>
<g id="a-GMNN" class="nd ra" transform="translate(396 783)"><circle r="17"/><text y="3.500">GMNN</text></g>
<g id="a-NELFE" class="nd w" transform="translate(27 798)"><circle r="17"/><text y="3.500">NELFE</text></g>
<g id="a-CDKN1A" class="nd ra" transform="translate(134 812)"><circle r="17"/><text><tspan x="0" y=".8">CDKN</tspan><tspan x="0" y="11.800">1A</tspan></text></g>
<g id="a-CDC6" class="nd ra" transform="translate(223 815)"><circle r="17"/><text y="3.500">CDC6</text></g>
<g id="a-ORC6" class="nd ra" transform="translate(350 862)"><circle r="17"/><text y="3.500">ORC6</text></g>
<g id="a-CDCA5" class="nd w" transform="translate(472 863)"><circle r="17"/><text y="3.500">CDCA5</text></g>

<g id="b-BRAT1" class="nd w" transform="translate(602 321)"><circle r="17"/><text y="3.500">BRAT1</text></g>
<g id="b-POF1B" class="nd w" transform="translate(800 355)"><circle r="17"/><text y="3.500">POF1B</text></g>
<g id="b-GSDMA" class="nd w" transform="translate(932 355)"><circle r="17"/><text y="3.500">GSDMA</text></g>
<g id="b-KRT75" class="nd w" transform="translate(668 388)"><circle r="17"/><text y="3.500">KRT75</text></g>
<g id="b-IMPDH2" class="nd w" transform="translate(836 405)"><circle r="17"/><text y="3.500">IMPDH2</text></g>
<g id="b-TUBB6" class="nd p" transform="translate(752 434)"><circle r="17"/><text y="3.500">TUBB6</text></g>
<g id="b-NACA" class="nd w" transform="translate(701 449)"><circle r="17"/><text y="3.500">NACA</text></g>
<g id="b-AARS1" class="nd" transform="translate(853 458)"><path d="M0-17A17 17 0 0 0 0 17Z" fill="#ff9696" stroke="#e05252"/><path d="M0-17A17 17 0 0 1 0 17Z" fill="#8ceaa6" stroke="#2fa85a"/><text y="3.500">AARS1</text></g>
<g id="b-RPL3" class="nd w" transform="translate(894 476)"><circle r="17"/><text y="3.500">RPL3</text></g>
<g id="b-EEF1B2" class="nd r" transform="translate(785 481)"><circle r="17"/><text y="3.500">EEF1B2</text></g>
<g id="b-TTLL12" class="nd w" transform="translate(585 490)"><circle r="17"/><text y="3.500">TTLL12</text></g>
<g id="b-JTV1" class="nd g" transform="translate(845 536)"><circle r="17"/><text y="3.500">JTV1</text></g>
<g id="b-TUBB4A" class="nd p" transform="translate(896 535)"><circle r="17"/><text y="3.500">TUBB4A</text></g>
<g id="b-RARS1" class="nd g" transform="translate(686 591)"><circle r="17"/><text y="3.500">RARS1</text></g>
<g id="b-EIF3F" class="nd r" transform="translate(714 566)"><circle r="17"/><text y="3.500">EIF3F</text></g>
<g id="b-EIF3I" class="nd r" transform="translate(776 568)"><circle r="17"/><text y="3.500">EIF3I</text></g>
<g id="b-CTPS1" class="nd g" transform="translate(849 579)"><circle r="17"/><text y="3.500">CTPS1</text></g>
<g id="b-EEF1G" class="nd r" transform="translate(906 589)"><circle r="17"/><text y="3.500">EEF1G</text></g>
<g id="b-ZNRD2" class="nd p" transform="translate(621 590)"><circle r="17"/><text y="3.500">ZNRD2</text></g>
<g id="b-PSMA4" class="nd r" transform="translate(876 628)"><circle r="17"/><text y="3.500">PSMA4</text></g>
<g id="b-TUBB2B" class="nd p" transform="translate(664 652)"><circle r="17"/><text y="3.500">TUBB2B</text></g>
<g id="b-TCP1" class="nd w" transform="translate(757 677)"><circle r="17"/><text y="3.500">TCP1</text></g>
<g id="b-CCT4" class="nd w" transform="translate(845 669)"><circle r="17"/><text y="3.500">CCT4</text></g>
<g id="b-CCT2" class="nd w" transform="translate(819 704)"><circle r="17"/><text y="3.500">CCT2</text></g>
<g id="b-RPAP3" class="nd w" transform="translate(551 691)"><circle r="17"/><text y="3.500">RPAP3</text></g>
<g id="b-IPO4" class="nd w" transform="translate(654 696)"><circle r="17"/><text y="3.500">IPO4</text></g>
<g id="b-RUVBL2" class="nd w" transform="translate(785 729)"><circle r="17"/><text y="3.500">RUVBL2</text></g>
<g id="b-HAL" class="nd g" transform="translate(1165 289)"><circle r="17"/><text y="3.500">HAL</text></g>
<g id="b-PYCRL" class="nd g" transform="translate(1065 303)"><circle r="17"/><text y="3.500">PYCRL</text></g>
<g id="b-NAMPT" class="nd w" transform="translate(1369 290)"><circle r="17"/><text y="3.500">NAMPT</text></g>
<g id="b-DMKN" class="nd w" transform="translate(1496 289)"><circle r="17"/><text y="3.500">DMKN</text></g>
<g id="b-GLS" class="nd g" transform="translate(1267 346)"><circle r="17"/><text y="3.500">GLS</text></g>
<g id="b-MTHFD1" class="nd g" transform="translate(1048 362)"><circle r="17"/><text y="3.500">MTHFD1</text></g>
<g id="b-KRT74" class="nd w" transform="translate(1462 355)"><circle r="17"/><text y="3.500">KRT74</text></g>
<g id="b-AHCY" class="nd g" transform="translate(964 414)"><circle r="17"/><text y="3.500">AHCY</text></g>
<g id="b-LAP3" class="nd w" transform="translate(1081 417)"><circle r="17"/><text y="3.500">LAP3</text></g>
<g id="b-ALOX12B" class="nd g" transform="translate(1462 421)"><circle r="17"/><text><tspan x="0" y=".8">ALOX</tspan><tspan x="0" y="11.800">12B</tspan></text></g>
<g id="b-ALDH18A1" class="nd g" transform="translate(1158 434)"><circle r="17"/><text y="3.500">ALDH18A1</text></g>
<g id="b-ALDH1B1" class="nd w" transform="translate(1247 440)"><circle r="17"/><text y="3.500">ALDH1B1</text></g>
<g id="b-UMPS" class="nd w" transform="translate(1037 479)"><circle r="17"/><text y="3.500">UMPS</text></g>
<g id="b-IDH2" class="nd g" transform="translate(1331 478)"><circle r="17"/><text y="3.500">IDH2</text></g>
<g id="b-PCK2" class="nd g" transform="translate(1383 478)"><circle r="17"/><text y="3.500">PCK2</text></g>
<g id="b-CHCHD3" class="nd w" transform="translate(1283 497)"><circle r="17"/><text y="3.500">CHCHD3</text></g>
<g id="b-RCN2" class="nd w" transform="translate(1160 544)"><circle r="17"/><text y="6">RCN2</text></g>
<g id="b-PKM" class="nd g" transform="translate(1149 524)"><circle r="17"/><text y="3.500">PKM</text></g>
<g id="b-IDH3B" class="nd g" transform="translate(1424 538)"><circle r="17"/><text y="3.500">IDH3B</text></g>
<g id="b-NME2" class="nd w" transform="translate(1023 556)"><circle r="17"/><text y="3.500">NME2</text></g>
<g id="b-LDHA" class="nd g" transform="translate(1207 568)"><circle r="17"/><text y="3.500">LDHA</text></g>
<g id="b-CCT6A" class="nd w" transform="translate(967 606)"><circle r="17"/><text y="3.500">CCT6A</text></g>
<g id="b-NDUFS1" class="nd w" transform="translate(1382 616)"><circle r="17"/><text y="3.500">NDUFS1</text></g>
<g id="b-TIMM44" class="nd w" transform="translate(1168 647)"><circle r="17"/><text y="3.500">TIMM44</text></g>
<g id="b-PSMA5" class="nd r" transform="translate(956 651)"><circle r="17"/><text y="3.500">PSMA5</text></g>
<g id="b-PHGDH" class="nd g" transform="translate(1048 651)"><circle r="17"/><text y="3.500">PHGDH</text></g>
<g id="b-ACAT1" class="nd g" transform="translate(1474 653)"><circle r="17"/><text y="3.500">ACAT1</text></g>
<g id="b-ALDOA" class="nd g" transform="translate(1233 660)"><circle r="17"/><text y="3.500">ALDOA</text></g>
<g id="b-TPI1" class="nd g" transform="translate(1120 668)"><circle r="17"/><text y="3.500">TPI1</text></g>
<g id="b-DLST" class="nd g" transform="translate(1377 687)"><circle r="17"/><text y="3.500">DLST</text></g>
<g id="b-TUBB2A" class="nd p" transform="translate(970 706)"><circle r="17"/><text y="3.500">TUBB2A</text></g>
<g id="b-AIFM1" class="nd w" transform="translate(1513 717)"><circle r="17"/><text y="3.500">AIFM1</text></g>
<g id="b-CLPX" class="nd w" transform="translate(1150 724)"><circle r="17"/><text y="3.500">CLPX</text></g>
<g id="b-SLC25A5" class="nd w" transform="translate(1305 729)"><circle r="17"/><text y="3.500">SLC25A5</text></g>
<g id="b-PYGL" class="nd w" transform="translate(1268 736)"><circle r="17"/><text y="3.500">PYGL</text></g>
<g id="b-SFXN1" class="nd w" transform="translate(1402 732)"><circle r="17"/><text y="3.500">SFXN1</text></g>
<g id="b-KIFBP" class="nd w" transform="translate(584 779)"><circle r="17"/><text y="3.500">KIFBP</text></g>
<g id="b-EIF4G2" class="nd r" transform="translate(627 777)"><circle r="17"/><text y="3.500">EIF4G2</text></g>
<g id="b-PSMB6" class="nd r" transform="translate(728 774)"><circle r="17"/><text y="3.500">PSMB6</text></g>
<g id="b-DDX39B" class="nd r" transform="translate(697 779)"><circle r="17"/><text y="3.500">DDX39B</text></g>
<g id="b-PSMC4" class="nd r" transform="translate(855 777)"><circle r="17"/><text y="3.500">PSMC4</text></g>
<g id="b-RAN" class="nd" transform="translate(930 780)"><path d="M0-17A17 17 0 0 0 0 17Z" fill="#ff9696" stroke="#c96a6a"/><path d="M0-17A17 17 0 0 1 0 17Z" fill="#9c9cff" stroke="#5454cc"/><text y="3.500">RAN</text></g>
<g id="b-RPN1" class="nd w" transform="translate(973 779)"><circle r="17"/><text y="3.500">RPN1</text></g>
<g id="b-ACTG1" class="nd w" transform="translate(1015 820)"><circle r="17"/><text y="3.500">ACTG1</text></g>
<g id="b-CALU" class="nd w" transform="translate(791 845)"><circle r="17"/><text y="3.500">CALU</text></g>
<g id="b-EIF4G1" class="nd r" transform="translate(814 822)"><circle r="17"/><text y="3.500">EIF4G1</text></g>
<g id="b-IPO7" class="nd w" transform="translate(632 860)"><circle r="17"/><text y="3.500">IPO7</text></g>
<g id="b-PCNA" class="nd p" transform="translate(982 878)"><circle r="17"/><text y="3.500">PCNA</text></g>
<g id="b-VCP" class="nd p" transform="translate(1038 869)"><circle r="17"/><text y="3.500">VCP</text></g>
<g id="b-SF3A3" class="nd w" transform="translate(575 886)"><circle r="17"/><text y="3.500">SF3A3</text></g>
<g id="b-TRA1" class="nd w" transform="translate(924 895)"><circle r="17"/><text y="3.500">TRA1</text></g>
<g id="b-PUM1" class="nd r" transform="translate(698 905)"><circle r="17"/><text y="3.500">PUM1</text></g>
<g id="b-XPO1" class="nd r" transform="translate(861 911)"><circle r="17"/><text y="3.500">XPO1</text></g>
<g id="b-LMNA" class="nd p" transform="translate(945 940)"><circle r="17"/><text y="3.500">LMNA</text></g>
<g id="b-NUP107" class="nd w" transform="translate(780 951)"><circle r="17"/><text y="3.500">NUP107</text></g>
<g id="b-CDK2" class="nd p" transform="translate(982 969)"><circle r="17"/><text y="3.500">CDK2</text></g>
<g id="b-NUP93" class="nd w" transform="translate(699 978)"><circle r="17"/><text y="3.500">NUP93</text></g>
<g id="b-LMNB1" class="nd w" transform="translate(862 1003)"><circle r="17"/><text y="3.500">LMNB1</text></g>
<g id="b-CDK1" class="nd p" transform="translate(933 1005)"><circle r="17"/><text y="3.500">CDK1</text></g>
<g id="b-MCM4" class="nd p" transform="translate(812 1035)"><circle r="17"/><text y="3.500">MCM4</text></g>
<g id="b-MCM6" class="nd p" transform="translate(1033 1050)"><circle r="17"/><text y="3.500">MCM6</text></g>
<g id="b-CCNB1" class="nd p" transform="translate(915 1070)"><circle r="17"/><text y="3.500">CCNB1</text></g>
<g id="b-PPP2R1A" class="nd p" transform="translate(972 1083)"><circle r="17"/><text><tspan x="0" y=".8">PPP2R</tspan><tspan x="0" y="11.800">1A</tspan></text></g>
<g id="b-CAND1" class="nd w" transform="translate(584 1056)"><circle r="17"/><text y="3.500">CAND1</text></g>
<g id="b-WRNIP1" class="nd w" transform="translate(664 1056)"><circle r="17"/><text y="3.500">WRNIP1</text></g>
<g id="b-APOD" class="nd w" transform="translate(727 1107)"><circle r="17"/><text y="3.500">APOD</text></g>
<g id="b-CLU" class="nd w" transform="translate(801 1107)"><circle r="17"/><text y="3.500">CLU</text></g>
<g id="b-IDE" class="nd w" transform="translate(640 1143)"><circle r="17"/><text y="3.500">IDE</text></g>
<g id="b-GSN" class="nd w" transform="translate(878 1161)"><circle r="17"/><text y="3.500">GSN</text></g>
<g id="b-HEL-S-84" class="nd w" transform="translate(1028 1150)"><circle r="17"/><text><tspan x="0" y=".8">HEL-S-</tspan><tspan x="0" y="11.800">84</tspan></text></g>
<g id="b-NCAPH" class="nd p" transform="translate(980 1192)"><circle r="17"/><text y="3.500">NCAPH</text></g>
<g id="b-SLC25A13" class="nd w" transform="translate(767 1219)"><circle r="17"/><text><tspan x="0" y=".8">SLC25</tspan><tspan x="0" y="11.800">A13</tspan></text></g>
<g id="b-EMD" class="nd p" transform="translate(888 1249)"><circle r="17"/><text y="3.500">EMD</text></g>
<g id="b-PPP2R5B" class="nd w" transform="translate(960 1312)"><circle r="17"/><text><tspan x="0" y=".8">PPP2R</tspan><tspan x="0" y="11.800">5B</tspan></text></g>
<g id="b-PHB" class="nd w" transform="translate(1141 789)"><circle r="17"/><text y="3.500">PHB</text></g>
<g id="b-USP5" class="nd w" transform="translate(1205 782)"><circle r="17"/><text y="3.500">USP5</text></g>
<g id="b-SLC25A3" class="nd w" transform="translate(1325 810)"><circle r="17"/><text y="3.500">SLC25A3</text></g>
<g id="b-PRSS3" class="nd w" transform="translate(1496 820)"><circle r="17"/><text y="3.500">PRSS3</text></g>
<g id="b-UBA5" class="nd w" transform="translate(1313 849)"><circle r="17"/><text y="3.500">UBA5</text></g>
<g id="b-UBE2S" class="nd p" transform="translate(1115 888)"><circle r="17"/><text y="3.500">UBE2S</text></g>
<g id="b-DSC3" class="nd w" transform="translate(1381 912)"><circle r="17"/><text y="3.500">DSC3</text></g>
<g id="b-CTNND1" class="nd w" transform="translate(1503 908)"><circle r="17"/><text y="3.500">CTNND1</text></g>
<g id="b-CDKN1A" class="nd p" transform="translate(1058 961)"><circle r="17"/><text><tspan x="0" y=".8">CDKN</tspan><tspan x="0" y="11.800">1A</tspan></text></g>
<g id="b-YWHAG" class="nd p" transform="translate(1128 959)"><circle r="17"/><text y="3.500">YWHAG</text></g>
<g id="b-RFC2" class="nd w" transform="translate(1180 971)"><circle r="17"/><text y="3.500">RFC2</text></g>
<g id="b-ATP1A1" class="nd w" transform="translate(1310 978)"><circle r="17"/><text y="3.500">ATP1A1</text></g>
<g id="b-A2ML1" class="nd w" transform="translate(1528 986)"><circle r="17"/><text y="3.500">A2ML1</text></g>
<g id="b-GDI2" class="nd w" transform="translate(1295 1028)"><circle r="17"/><text y="3.500">GDI2</text></g>
<g id="b-CCNA2" class="nd p" transform="translate(1119 1059)"><circle r="17"/><text y="3.500">CCNA2</text></g>
<g id="b-ACTN4" class="nd w" transform="translate(1158 1065)"><circle r="17"/><text y="3.500">ACTN4</text></g>
<g id="b-EPPK1" class="nd w" transform="translate(1480 1051)"><circle r="17"/><text y="3.500">EPPK1</text></g>
<g id="b-SFN" class="nd p" transform="translate(1065 1079)"><circle r="17"/><text y="3.500">SFN</text></g>
<g id="b-SERPINB3" class="nd w" transform="translate(1490 1126)"><circle r="17"/><text><tspan x="0" y=".8">SERPIN</tspan><tspan x="0" y="11.800">B3</tspan></text></g>
<g id="b-GAPVD1" class="nd w" transform="translate(1291 1138)"><circle r="17"/><text y="3.500">GAPVD1</text></g>
<g id="b-S100A7" class="nd w" transform="translate(1385 1142)"><circle r="17"/><text y="3.500">S100A7</text></g>
<g id="b-RPS6KA3" class="nd r" transform="translate(1165 1219)"><circle r="17"/><text><tspan x="0" y=".8">RPS6K</tspan><tspan x="0" y="11.800">A3</tspan></text></g>
<g id="b-DIRAS2" class="nd w" transform="translate(1364 1219)"><circle r="17"/><text y="3.500">DIRAS2</text></g>
<g id="b-SPRR2D" class="nd w" transform="translate(1496 1219)"><circle r="17"/><text y="3.500">SPRR2D</text></g>
<g id="b-RIC8A" class="nd w" transform="translate(1068 1249)"><circle r="17"/><text y="3.500">RIC8A</text></g>
<g id="b-KRT18" class="nd w" transform="translate(1256 1264)"><circle r="17"/><text y="3.500">KRT18</text></g>
</g>
<g id="labels">
<text x="43" y="44" font-size="38" font-weight="700" fill="#000">a</text>
<text x="549.500" y="44" font-size="38" font-weight="700" fill="#000">b</text>
<text class="go blue" x="204.500" y="288.500">GO:0032981</text>
<text class="go blue" x="204.500" y="310.500">Mitochondrial respiratory chain</text>
<text class="go blue" x="204.500" y="332.500">complex i assembly</text>
<text x="85" y="847" font-size="18.500" fill="#000">CDKN1A</text>
<text class="go red" x="172" y="863">GO:0044843</text>
<text class="go red" x="44" y="885">Cell cycle G1/S phase transition</text>
<text class="gb green" x="1298" y="228.500">GO:0019752</text>
<text class="gb green" x="1139" y="251.500">Carboxylic acid metabolic process</text>
<text class="gb red" x="650" y="958.500" text-anchor="end">GO:0010608</text>
<text class="gb red" x="672" y="982.500" text-anchor="end">Posttranscriptional regulation of</text>
<text class="gb red" x="672" y="1005.500" text-anchor="end">gene expression</text>
<text x="1000" y="936" font-size="18" fill="#000">CDKN1A</text>
<text class="gb blue" x="1063" y="1142">GO:0000278</text>
<text class="gb blue" x="1056" y="1165.500">Mitotic cell cycle</text>
</g>
</g>
</svg>
